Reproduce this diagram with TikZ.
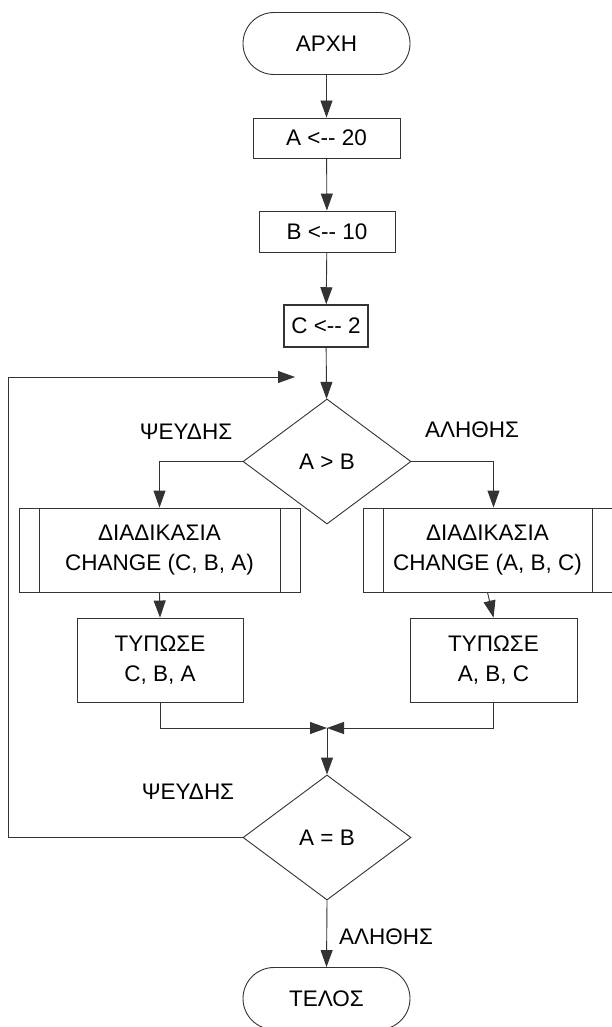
\documentclass[tikz,border=0pt]{standalone}
\usepackage{fontspec}
\setmainfont{Liberation Sans}[Ligatures=TeXOff]
\usetikzlibrary{arrows.meta,shapes.geometric}
\begin{document}
\begin{tikzpicture}[x=1pt,y=-1pt,
  every node/.style={font=\fontsize{22.5}{30}\selectfont, text=black, inner sep=0pt},
  ln/.style={draw=black!80, line width=0.9pt},
  arr/.style={ln, -{Triangle[length=17pt,width=12pt]}},
  term/.style={ln, rectangle, rounded corners=31pt, minimum width=167pt, minimum height=62pt},
  proc/.style={ln, rectangle, align=center},
  dec/.style={ln, diamond, minimum width=168pt, minimum height=125pt},
  lbl/.style={}
]
\path[use as bounding box, clip] (0,0) rectangle (612,1027);
\fill[white] (0,0) rectangle (612,1027);

\node[term] (start) at (326.5,43.5) {ΑΡΧΗ};
\node[proc, minimum width=147pt, minimum height=40pt] (a) at (326.5,138) {A <-- 20};
\node[proc, minimum width=136pt, minimum height=41pt] (b) at (327,231.5) {B <-- 10};
\node[proc, line width=1.5pt, minimum width=84pt, minimum height=42pt] (c) at (326,326) {C <-- 2};
\node[dec] (d1) at (327,461.5) {A > B};

\node[proc, minimum width=281pt, minimum height=84pt] (lsub) at (159.5,550) {ΔΙΑΔΙΚΑΣΙΑ\\CHANGE (C, B, A)};
\draw[ln] ([xshift=21pt]lsub.north west) -- ([xshift=21pt]lsub.south west);
\draw[ln] ([xshift=-20pt]lsub.north east) -- ([xshift=-20pt]lsub.south east);
\node[proc, minimum width=249pt, minimum height=84pt] (rsub) at (487.5,550) {ΔΙΑΔΙΚΑΣΙΑ\\CHANGE (A, B, C)};
\draw[ln] ([xshift=21pt]rsub.north west) -- ([xshift=21pt]rsub.south west);
\draw[ln] ([xshift=-20pt]rsub.north east) -- ([xshift=-20pt]rsub.south east);

\node[proc, minimum width=166pt, minimum height=84pt] (lprint) at (160,660) {ΤΥΠΩΣΕ\\C, B, A};
\node[proc, minimum width=167pt, minimum height=84pt] (rprint) at (493.5,660) {ΤΥΠΩΣΕ\\A, B, C};

\coordinate (m) at (327,728);
\node[dec] (d2) at (327,837.5) {A = B};
\node[term] (end) at (326.5,998.5) {ΤΕΛΟΣ};
\coordinate (loopend) at (295,377);

\node[lbl] (f1) at (186,432) {ΨΕΥΔΗΣ};
\node[lbl] (t1) at (472,430) {ΑΛΗΘΗΣ};
\node[lbl] (f2) at (188,792) {ΨΕΥΔΗΣ};
\node[lbl] (t2) at (386,937) {ΑΛΗΘΗΣ};

\draw[arr] (start) -- (a);
\draw[arr] (a) -- (b);
\draw[arr] (b) -- (c);
\draw[arr] (c) -- (d1);
\draw[arr] (d1.west) -| (lsub.north);
\draw[arr] (d1.east) -| (rsub.north -| rprint.north);
\draw[arr] (lsub.south) -- (lprint.north);
\draw[arr] (rsub.south) -- (rprint.north);
\draw[arr] (lprint.south) |- (m);
\draw[arr] (rprint.south) |- (m);
\draw[arr] (m) -- (d2.north);
\draw[arr] (d2.south) -- (end.north);
\draw[arr] (d2.west) -- (8,837.5) -- (8,377) -- (loopend);
\end{tikzpicture}
\end{document}
